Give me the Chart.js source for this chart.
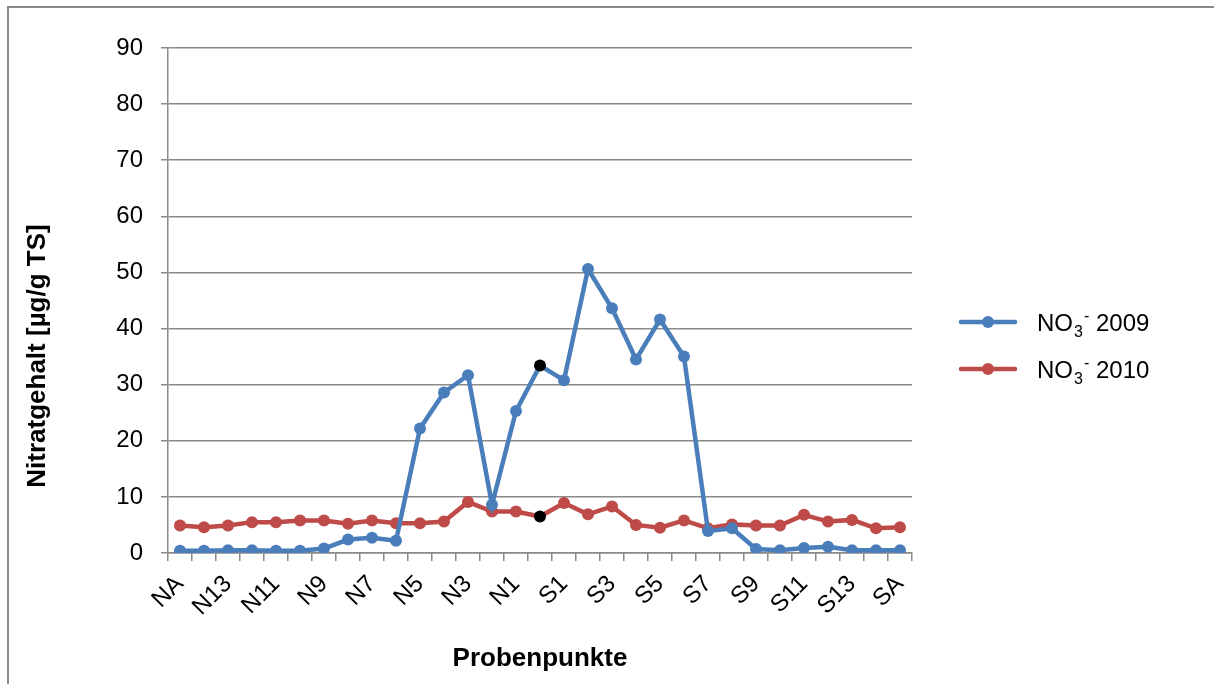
<!DOCTYPE html>
<html>
<head>
<meta charset="utf-8">
<script src="https://cdn.jsdelivr.net/npm/chart.js@4"></script>
<style>
  html, body { margin: 0; padding: 0; background: #fff; }
  #wrap { position: relative; width: 1214px; height: 684px; }
</style>
</head>
<body>
<div id="wrap"><canvas id="canvas" width="1214" height="684"></canvas></div>
<script>
// Probenpunkte von Nord (NA) ueber die Mitte bis Sued (SA)
var points = ['NA', 'N14', 'N13', 'N12', 'N11', 'N10', 'N9', 'N8', 'N7', 'N6', 'N5', 'N4', 'N3', 'N2', 'N1',
	'M', 'S1', 'S2', 'S3', 'S4', 'S5', 'S6', 'S7', 'S8', 'S9', 'S10', 'S11', 'S12', 'S13', 'S14', 'SA'];
var no3_2009 = [0.4, 0.4, 0.5, 0.5, 0.4, 0.4, 0.8, 2.4, 2.7, 2.2, 22.2, 28.6, 31.7, 8.6, 25.3,
	33.4, 30.8, 50.6, 43.6, 34.5, 41.6, 35.0, 3.9, 4.4, 0.7, 0.5, 0.9, 1.1, 0.5, 0.5, 0.5];
var no3_2010 = [4.9, 4.6, 4.9, 5.5, 5.5, 5.8, 5.8, 5.2, 5.8, 5.3, 5.3, 5.6, 9.1, 7.4, 7.4,
	6.5, 8.9, 6.9, 8.3, 5.0, 4.5, 5.8, 4.4, 5.1, 4.9, 4.9, 6.8, 5.6, 5.9, 4.4, 4.6];
var yTicks = [0, 10, 20, 30, 40, 50, 60, 70, 80, 90];
var years = ['2009', '2010'];

var FONT = "'Liberation Sans', Arial, sans-serif";
var centerIdx = points.indexOf('M');

// Mittelpunkt schwarz markieren
function pointColors(c) {
	return points.map(function(p, i) { return i === centerIdx ? '#000000' : c; });
}

// Rahmen, y-Achsentitel und Legende mit NO3- (tief/hochgestellt)
var decorations = {
	id: 'decorations',
	beforeDraw: function(chart) {
		var ctx = chart.ctx;
		ctx.save();
		ctx.strokeStyle = '#8a8a8a';
		ctx.lineWidth = 2;
		ctx.beginPath();
		ctx.moveTo(8, 690);
		ctx.lineTo(8, 7);
		ctx.lineTo(1220, 7);
		ctx.stroke();
		ctx.restore();
	},
	afterDraw: function(chart) {
		var ctx = chart.ctx;
		ctx.save();
		ctx.fillStyle = '#000';
		ctx.font = 'bold 26px ' + FONT;
		ctx.textAlign = 'center';
		ctx.textBaseline = 'middle';
		ctx.translate(38, 356);
		ctx.rotate(-Math.PI / 2);
		ctx.fillText('Nitratgehalt [µg/g TS]', 0, 0);
		ctx.restore();

		chart.data.datasets.forEach(function(ds, i) {
			var y = 322 + i * 47;
			ctx.save();
			ctx.strokeStyle = ds.borderColor;
			ctx.lineWidth = 4.5;
			ctx.lineCap = 'round';
			ctx.beginPath();
			ctx.moveTo(961, y);
			ctx.lineTo(1015, y);
			ctx.stroke();
			ctx.fillStyle = ds.borderColor;
			ctx.beginPath();
			ctx.arc(988, y, 6, 0, Math.PI * 2);
			ctx.fill();
			ctx.fillStyle = '#000';
			ctx.textAlign = 'left';
			ctx.textBaseline = 'alphabetic';
			ctx.font = '24px ' + FONT;
			ctx.fillText('NO', 1037, y + 9);
			ctx.font = '16px ' + FONT;
			ctx.fillText('3', 1074, y + 15);
			ctx.fillText('-', 1084, y - 1);
			ctx.font = '24px ' + FONT;
			ctx.fillText(years[i], 1096, y + 9);
			ctx.restore();
		});
	}
};

var config = {
	type: 'line',
	data: {
		labels: points,
		datasets: [{
			label: 'NO3- 2009',
			data: no3_2009,
			borderColor: '#4a7ebb',
			backgroundColor: '#4a7ebb',
			pointBackgroundColor: pointColors('#4a7ebb'),
			pointBorderColor: pointColors('#4a7ebb'),
			borderWidth: 4.5,
			pointRadius: 6,
			pointBorderWidth: 0,
			tension: 0
		}, {
			label: 'NO3- 2010',
			data: no3_2010,
			borderColor: '#be4b48',
			backgroundColor: '#be4b48',
			pointBackgroundColor: pointColors('#be4b48'),
			pointBorderColor: pointColors('#be4b48'),
			borderWidth: 4.5,
			pointRadius: 6,
			pointBorderWidth: 0,
			tension: 0
		}]
	},
	options: {
		responsive: false,
		animation: false,
		events: [],
		layout: {
			padding: { left: 0, top: 48, right: 302, bottom: 10 }
		},
		plugins: {
			legend: { display: false },
			title: { display: false },
			tooltip: { enabled: false }
		},
		scales: {
			x: {
				offset: true,
				grid: {
					offset: true,
					drawOnChartArea: false,
					color: '#8a8a8a',
					lineWidth: 1.5,
					tickLength: 8
				},
				border: { color: '#8a8a8a', width: 1.5 },
				ticks: {
					autoSkip: false,
					maxRotation: 45,
					minRotation: 45,
					padding: 9,
					color: '#000',
					font: { family: FONT, size: 24 },
					callback: function(v, i) { return i % 2 === 0 ? points[i] : ''; }
				},
				title: {
					display: true,
					text: 'Probenpunkte',
					color: '#000',
					font: { family: FONT, size: 26, weight: 'bold' },
					padding: { top: 0, bottom: 0 }
				},
				afterFit: function(s) { s.height = 684 - 553 - 10; }
			},
			y: {
				min: 0,
				max: 90,
				afterBuildTicks: function(s) {
					s.ticks = yTicks.map(function(v) { return { value: v }; });
				},
				grid: {
					color: '#8a8a8a',
					lineWidth: 1.5,
					tickLength: 7
				},
				border: { color: '#8a8a8a', width: 1.5 },
				ticks: {
					padding: 18,
					color: '#000',
					font: { family: FONT, size: 24 }
				},
				afterFit: function(s) { s.width = 168; }
			}
		}
	},
	plugins: [decorations]
};

window.onload = function() {
	window.myLine = new Chart(document.getElementById('canvas'), config);
};
</script>
</body>
</html>
